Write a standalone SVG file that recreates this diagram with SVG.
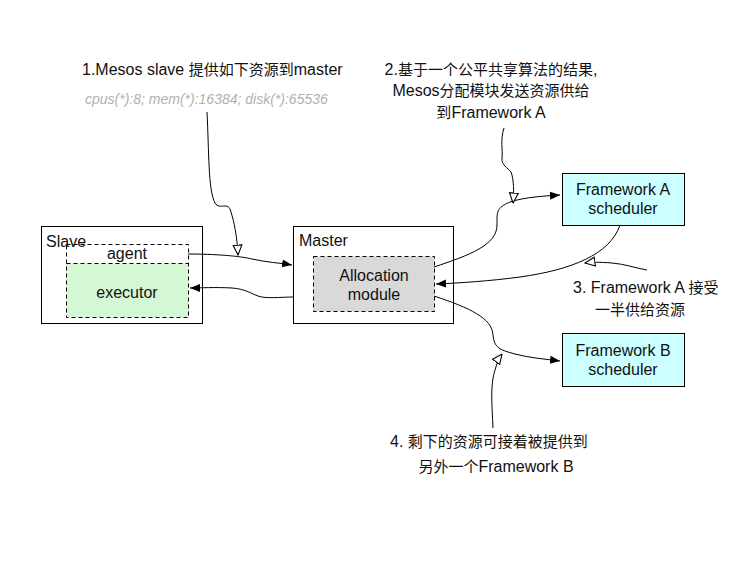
<svg xmlns="http://www.w3.org/2000/svg" width="734" height="576" viewBox="0 0 734 576">
<defs>
<style>
text{font-family:"Liberation Sans","Noto Sans CJK SC",Arial,sans-serif;fill:#111;}
.box{fill:#fff;stroke:#000;stroke-width:1;}
.dash{stroke:#000;stroke-width:1;stroke-dasharray:4,3;}
.fw{fill:#ccffff;stroke:#000;stroke-width:1;}
.lbl{font-size:16px;}
.ann{font-size:16px;}
.cj{font-size:15px;font-family:"Noto Sans CJK SC",sans-serif;}
.c{fill:none;stroke:#000;stroke-width:1;}
</style>
<marker id="fill" viewBox="0 0 10 10" refX="10" refY="5" markerWidth="10" markerHeight="10" markerUnits="userSpaceOnUse" orient="auto">
<path d="M0,1 L10,5 L0,9 Z" fill="#000"/>
</marker>
<marker id="open" viewBox="0 0 10 10" refX="9.5" refY="5" markerWidth="11" markerHeight="11" markerUnits="userSpaceOnUse" orient="auto">
<path d="M0.5,1 L9.5,5 L0.5,9 Z" fill="#fff" stroke="#000" stroke-width="1"/>
</marker>
</defs>
<rect width="734" height="576" fill="#fff"/>

<g id="slave">
<rect class="box" x="41.5" y="226.5" width="161" height="97"/>
<rect x="66.5" y="263.5" width="122" height="54" fill="#d4f7d4"/>
<rect x="66.5" y="244.5" width="122" height="73" fill="none" class="dash"/>
<line x1="66.5" y1="263.5" x2="188.5" y2="263.5" class="dash"/>
<text class="lbl" x="46" y="247">Slave</text>
<text class="lbl" x="127" y="259" text-anchor="middle">agent</text>
<text class="lbl" x="127" y="298" text-anchor="middle">executor</text>
</g>

<g id="master">
<rect class="box" x="293.5" y="226.5" width="160" height="97"/>
<rect x="313.5" y="256.5" width="121" height="55" fill="#d9d9d9" class="dash"/>
<text class="lbl" x="299" y="246">Master</text>
<text class="lbl" x="374" y="281" text-anchor="middle">Allocation</text>
<text class="lbl" x="374" y="300" text-anchor="middle">module</text>
</g>

<g id="frameworkA">
<rect class="fw" x="562.5" y="173.5" width="122" height="52"/>
<text class="lbl" x="623" y="195" text-anchor="middle">Framework A</text>
<text class="lbl" x="623" y="214" text-anchor="middle">scheduler</text>
</g>

<g id="frameworkB">
<rect class="fw" x="562.5" y="333.5" width="122" height="53"/>
<text class="lbl" x="623" y="356" text-anchor="middle">Framework B</text>
<text class="lbl" x="623" y="375" text-anchor="middle">scheduler</text>
</g>

<g id="note1">
<text class="ann" x="82" y="75">1.Mesos slave <tspan class="cj">提供如下资源到</tspan>master</text>
<text x="85" y="104" style="font-size:14px;font-style:italic;fill:#b0b0b0;">cpus(*):8; mem(*):16384; disk(*):65536</text>
</g>
<g id="note2">
<text class="ann" x="491" y="75" text-anchor="middle">2.<tspan class="cj">基于一个公平共享算法的结果</tspan>,</text>
<text class="ann" x="491" y="96" text-anchor="middle">Mesos<tspan class="cj">分配模块发送资源供给</tspan></text>
<text class="ann" x="491" y="118" text-anchor="middle"><tspan class="cj">到</tspan>Framework A</text>
</g>
<g id="note3">
<text class="ann" x="573" y="293">3. Framework A <tspan class="cj">接受</tspan></text>
<text class="ann" x="640" y="315" text-anchor="middle"><tspan class="cj">一半供给资源</tspan></text>
</g>
<g id="note4">
<text class="ann" x="390" y="447">4. <tspan class="cj">剩下的资源可接着被提供到</tspan></text>
<text class="ann" x="496" y="472" text-anchor="middle"><tspan class="cj">另外一个</tspan>Framework B</text>
</g>

<g id="connectors">
<path class="c" d="M188,254 C215,254 240,256 252,259 C265,262 280,263 292,265" marker-end="url(#fill)"/>
<path class="c" d="M294,297 C280,297 266,299 258,296 C250,293 245,289 232,288 C215,287 200,288 190,288" marker-end="url(#fill)"/>
<path class="c" d="M434,267 C470,255 497,245 497,225 C497,212 496,208 510,202 C525,197 545,196 560,195" marker-end="url(#fill)"/>
<path class="c" d="M620,225 C610,255 570,270 520,277 C490,281 460,283 436,284" marker-end="url(#fill)"/>
<path class="c" d="M434,296 C470,308 492,318 493,335 C494,348 500,350 515,354 C530,358 545,359 560,361" marker-end="url(#fill)"/>
<path class="c" d="M207,112 C209,150 208,190 215,203 C220,211 228,200 231,212 C234,222 237,235 238,255" marker-end="url(#open)"/>
<path class="c" d="M504,128 C500,140 503,150 502,158 C501,165 508,168 511,172 C514,180 514,192 513,203" marker-end="url(#open)"/>
<path class="c" d="M647,270 C635,268 625,264 612,263 C600,262 592,262 585,263" marker-end="url(#open)"/>
<path class="c" d="M493,428 C492,405 490,385 495,370 C497,363 499,358 502,354" marker-end="url(#open)"/>
</g>
</svg>
